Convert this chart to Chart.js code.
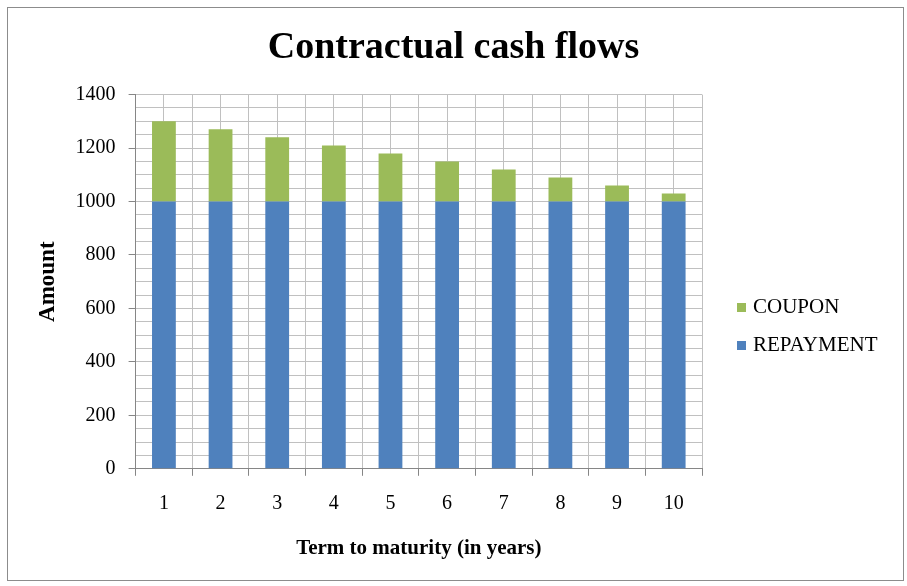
<!DOCTYPE html>
<html>
<head>
<meta charset="utf-8">
<script src="https://cdn.jsdelivr.net/npm/chart.js@4.4.0/dist/chart.umd.min.js"></script>
<style>
  html, body { margin: 0; padding: 0; background: #fff; }
  #frame {
    position: absolute; left: 7px; top: 7px;
    width: 895px; height: 572px;
    border: 1px solid #8c8c8c;
  }
  #legend {
    position: absolute; left: 729px; top: 284px;
    font-family: 'Liberation Serif', 'Times New Roman', serif;
    font-size: 21px; color: #000;
  }
  .item { height: 38px; line-height: 28px; white-space: nowrap; }
  .swatch { display: inline-block; width: 9px; height: 9px; margin-right: 7px; vertical-align: 1px; }
</style>
</head>
<body>
<div id="frame"><canvas id="chart" width="895" height="572"></canvas><div id="legend"></div></div>
<script>
const years = ["1", "2", "3", "4", "5", "6", "7", "8", "9", "10"];
const repayment = [1000, 1000, 1000, 1000, 1000, 1000, 1000, 1000, 1000, 1000];
const coupon = [300, 270, 240, 210, 180, 150, 120, 90, 60, 30];
const yTicks = [0, 200, 400, 600, 800, 1000, 1200, 1400];

const serif = "'Liberation Serif', 'Times New Roman', serif";
const gridColor = "#c0c0c0";
const axisColor = "#868686";

const ctx = document.getElementById("chart").getContext("2d");
const chart = new Chart(ctx, {
  type: "bar",
  data: {
    labels: years,
    datasets: [
      {
        label: "REPAYMENT",
        data: repayment,
        backgroundColor: "#4F81BD",
        barPercentage: 0.42,
        categoryPercentage: 1,
      },
      {
        label: "COUPON",
        data: coupon,
        backgroundColor: "#9BBB59",
        barPercentage: 0.42,
        categoryPercentage: 1,
      },
    ],
  },
  options: {
    responsive: false,
    animation: false,
    layout: { padding: { left: 10, right: 14, bottom: 15 } },
    plugins: {
      title: {
        display: true,
        text: "Contractual cash flows",
        color: "#000",
        font: { family: serif, size: 38, weight: "bold" },
        padding: { top: 17, bottom: 24 },
      },
      legend: { display: false },
      tooltip: { enabled: false },
    },
    scales: {
      x: {
        stacked: true,
        grid: {
          offset: true,
          color: gridColor,
          tickColor: axisColor,
          tickLength: 7,
        },
        border: { color: axisColor },
        ticks: { color: "#000", font: { family: serif, size: 20 }, padding: 16 },
        title: {
          display: true,
          text: "Term to maturity (in years)",
          color: "#000",
          font: { family: serif, size: 21, weight: "bold" },
          padding: { top: 4 },
        },
      },
      x2: {
        labels: years,
        position: "bottom",
        grid: { offset: false, color: gridColor, drawTicks: false },
        border: { display: false },
        ticks: { display: false },
      },
      y: {
        stacked: true,
        min: 0,
        max: 1400,
        grid: {
          color: gridColor,
          tickLength: 7,
          tickColor: (c) => (yTicks.includes(c.tick.value) ? axisColor : "transparent"),
        },
        border: { color: axisColor },
        ticks: {
          stepSize: 50,
          autoSkip: false,
          color: "#000",
          font: { family: serif, size: 20 },
          padding: 13,
          callback: (v) => (yTicks.includes(v) ? v : ""),
        },
        title: {
          display: true,
          text: "Amount",
          color: "#000",
          font: { family: serif, size: 23, weight: "bold" },
          padding: { top: 16, bottom: 1 },
        },
      },
      // empty right-hand space that holds the legend
      legendSpace: {
        position: "right",
        grid: { drawOnChartArea: false, drawTicks: false },
        border: { display: false },
        ticks: { display: false },
        afterFit: (s) => { s.width = 187; },
      },
    },
  },
});

// legend (top to bottom: COUPON, REPAYMENT) built from the datasets
const legend = document.getElementById("legend");
chart.data.datasets.slice().reverse().forEach((ds) => {
  const row = document.createElement("div");
  row.className = "item";
  row.innerHTML = `<span class="swatch" style="background:${ds.backgroundColor}"></span>${ds.label}`;
  legend.appendChild(row);
});
</script>
</body>
</html>
